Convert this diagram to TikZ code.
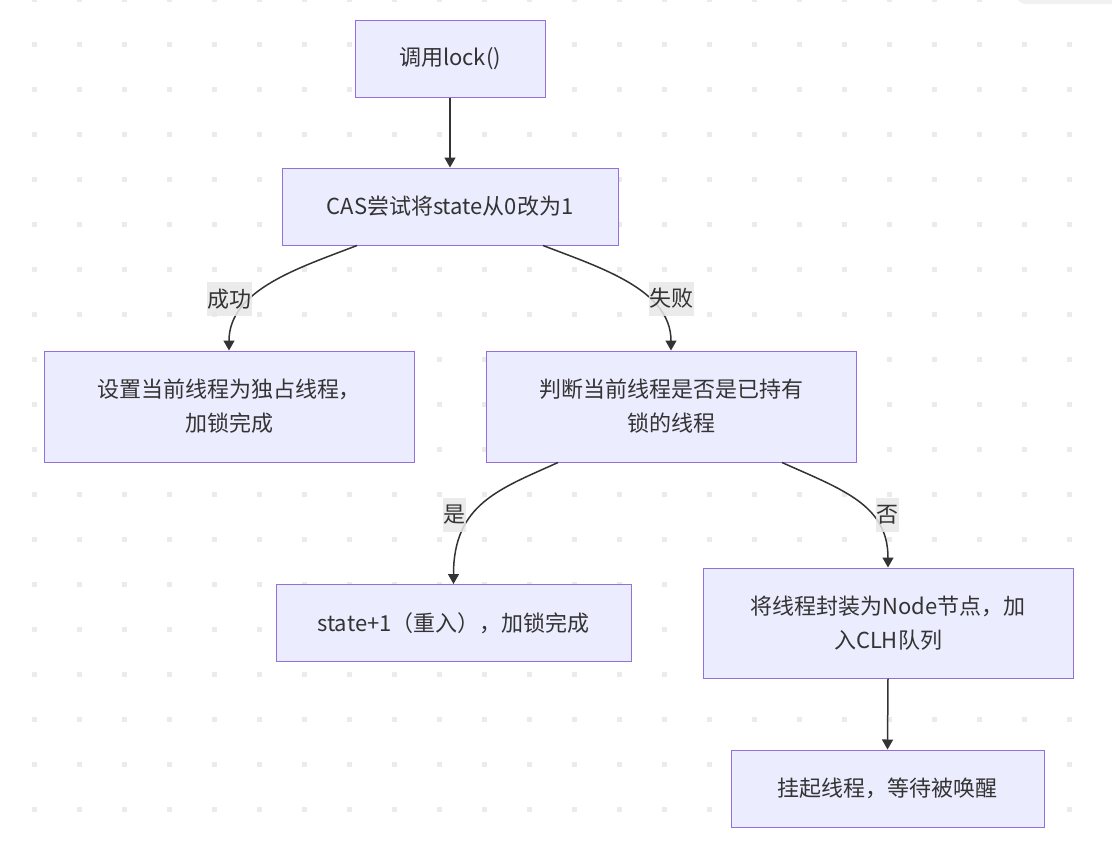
\documentclass[tikz,border=0pt]{standalone}
\usepackage{fontspec}
\setmainfont{Noto Sans CJK SC}
\usetikzlibrary{arrows.meta,calc}
\definecolor{nodefill}{HTML}{ECECFF}
\definecolor{nodeborder}{HTML}{9370DB}
\definecolor{txt}{HTML}{333333}
\definecolor{lblbg}{HTML}{E8E8E8}
\definecolor{dotc}{HTML}{EBEBEB}
\definecolor{cornerc}{HTML}{F1F1F4}
\begin{document}
\begin{tikzpicture}[x=1pt,y=-1pt,
  box/.style={draw=nodeborder, fill=nodefill, line width=1pt, text=txt,
    font=\fontsize{22}{34}\selectfont, align=center, inner sep=0pt},
  lbl/.style={fill=lblbg, text=txt, font=\fontsize{22}{24}\selectfont,
    inner xsep=0.5pt, inner ysep=0pt, minimum height=34pt},
  conn/.style={draw=txt, line width=1.5pt, -{Triangle[length=10pt,width=11pt]}}]
\useasboundingbox (0,0) rectangle (1112,844);
\fill[white] (0,0) rectangle (1112,844);
% dotted grid
\foreach \i in {0,...,24}{
  \foreach \j in {0,...,18}{
    \fill[dotc] ({34.3+45*\i-2.3},{45*\j-0.5-2.3}) rectangle ++(4.6,4.6);
  }
}
\fill[cornerc, rounded corners=8pt] (1017,-20) rectangle (1140,4);
% nodes
\node[box, minimum width=190pt, minimum height=77pt] (lock) at (450,58.5) {调用lock()};
\node[box, minimum width=336pt, minimum height=77pt] (cas) at (450,206.5) {CAS尝试将state从0改为1};
\node[box, minimum width=370pt, minimum height=111pt] (own) at (229,406.5) {设置当前线程为独占线程，\\加锁完成};
\node[box, minimum width=370pt, minimum height=111pt] (judge) at (671,406.5) {判断当前线程是否是已持有\\锁的线程};
\node[box, minimum width=355pt, minimum height=77pt] (reent) at (453.5,623) {state+1（重入），加锁完成};
\node[box, minimum width=370pt, minimum height=110pt] (enq) at (888,623) {将线程封装为Node节点，加\\入CLH队列};
\node[box, minimum width=313pt, minimum height=77pt] (park) at (887.5,788.5) {挂起线程，等待被唤醒};
% connectors
\draw[conn] (lock.south) -- (cas.north);
\draw[conn] ([xshift=-93pt]cas.south) .. controls ($(own.north)+(71,-83)$) and ($(own.north)+(0,-61)$) .. (own.north);
\draw[conn] ([xshift=93pt]cas.south) .. controls ($(judge.north)+(-71,-83)$) and ($(judge.north)+(0,-61)$) .. (judge.north);
\draw[conn] ([xshift=-113pt]judge.south) .. controls ($(reent.north)+(46,-95)$) and ($(reent.north)+(0,-80)$) .. (reent.north);
\draw[conn] ([xshift=111pt]judge.south) .. controls ($(enq.north)+(-46,-78)$) and ($(enq.north)+(0,-63)$) .. (enq.north);
\draw[conn] (enq.south) -- (park.north);
% edge labels
\node[lbl, fill opacity=0.85, text opacity=1] (l1) at (229,299) {成功};
\node[lbl, fill opacity=0.85, text opacity=1] (l2) at (671,298.5) {失败};
\node[lbl, fill opacity=0.85, text opacity=1] (l3) at (454,515) {是};
\node[lbl, fill opacity=0.85, text opacity=1] (l4) at (887,514.5) {否};
\end{tikzpicture}
\end{document}
